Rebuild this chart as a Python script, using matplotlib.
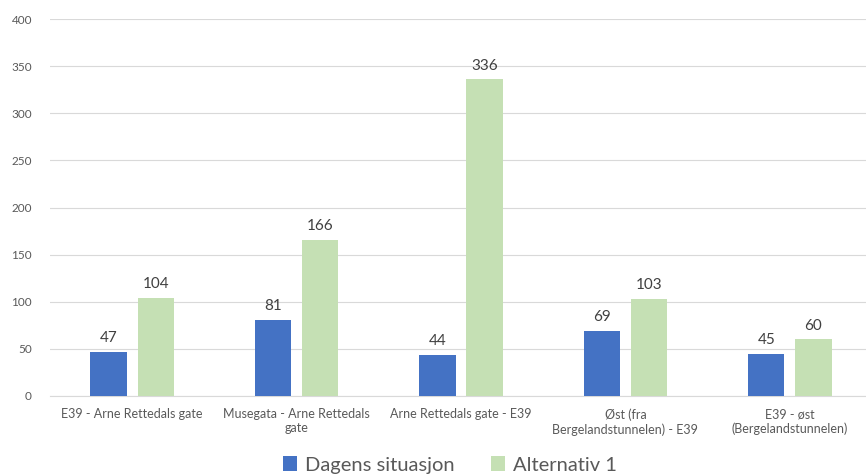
import matplotlib
matplotlib.use("Agg")
import matplotlib.pyplot as plt
import numpy as np

categories = ["E39 - Arne Rettedals gate", "Musegata - Arne Rettedals\ngate",
              "Arne Rettedals gate - E39", "Øst (fra\nBergelandstunnelen) - E39",
              "E39 - øst\n(Bergelandstunnelen)"]
dagens = [47, 81, 44, 69, 45]
alternativ = [104, 166, 336, 103, 60]
series_names = ["Dagens situasjon", "Alternativ 1"]
yticks = [0, 50, 100, 150, 200, 250, 300, 350, 400]

plt.rcParams['font.family'] = ['Lato', 'DejaVu Sans']
fig = plt.figure(figsize=(8.66, 4.75), dpi=100)
ax = fig.add_axes([50/866, 1-396/475, 822/866, (396-19)/475])

x = np.arange(len(categories))
w = 0.222
off = 0.1435
b1 = ax.bar(x - off, dagens, w, color="#4472C4", label=series_names[0], zorder=3)
b2 = ax.bar(x + off, alternativ, w, color="#C5E0B4", label=series_names[1], zorder=3)
for bars in (b1, b2):
    for r in bars:
        ax.text(r.get_x() + r.get_width()/2, r.get_height() + 7, f"{int(r.get_height())}",
                ha="center", va="bottom", fontsize=11, color="#404040")

ax.set_xlim(-0.5, len(categories) - 0.5)
ax.set_ylim(0, 400)
ax.set_yticks(yticks)
ax.set_yticklabels([str(t) for t in yticks])
ax.set_xticks(x)
ax.set_xticklabels(categories, fontsize=9, color="#595959", linespacing=1.2)
ax.tick_params(axis="y", labelsize=8.5, labelcolor="#595959", length=0, pad=13)
ax.tick_params(axis="x", length=0, pad=9)
ax.grid(axis="y", color="#D9D9D9", linewidth=0.8, zorder=0)
for s in ["top", "right", "left"]:
    ax.spines[s].set_visible(False)
ax.spines["bottom"].set_color("#D9D9D9")

leg = fig.legend(loc="center", bbox_to_anchor=(450/866, 1-465/475), ncol=2, frameon=False,
                 fontsize=14.5, handlelength=0.7, handleheight=0.7, handletextpad=0.4,
                 columnspacing=1.8, labelcolor="#595959")
fig.savefig("out.png", dpi=100)
